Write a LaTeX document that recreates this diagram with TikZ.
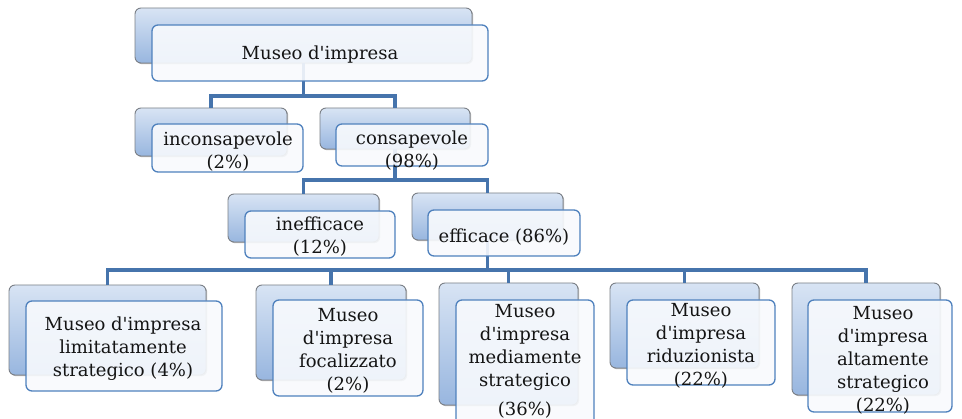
\documentclass[tikz,border=0pt]{standalone}
\usepackage{fontspec}
\newfontfamily\boxfont{DejaVu Serif}
\usetikzlibrary{fit,shadows}
\definecolor{bktop}{HTML}{D8E4F4}
\definecolor{bkbot}{HTML}{98B6DF}
\definecolor{bkline}{HTML}{7A7F86}
\definecolor{frline}{HTML}{4F81BD}
\definecolor{frfill}{HTML}{F8FAFD}
\definecolor{connc}{HTML}{4674AC}
\definecolor{txt}{HTML}{141414}
\begin{document}
\begin{tikzpicture}[x=1pt,y=-1pt,
  backbox/.style={draw=bkline, line width=0.9pt, rounded corners=6pt, inner sep=0pt,
    top color=bktop, bottom color=bkbot,
    drop shadow={shadow xshift=1.2pt, shadow yshift=-1.2pt, opacity=0.3, fill=black}},
  frontbox/.style={draw=frline, line width=1.3pt, rounded corners=6pt, inner sep=0pt,
    fill=frfill, fill opacity=0.9},
  conn/.style={draw=connc, line width=3.6pt},
  lbl/.style={text=txt, align=center, inner sep=0pt,
    font=\boxfont\fontsize{18}{23}\selectfont}]
\useasboundingbox (0,0) rectangle (962,419);
% back boxes
\node[backbox, fit={(135,8) (472,63)}] (b0) {};
\node[backbox, fit={(135,108) (287,156)}] (b1) {};
\node[backbox, fit={(320,108) (470,149)}] (b2) {};
\node[backbox, fit={(228,194) (379,242)}] (b3) {};
\node[backbox, fit={(412,193) (563,240)}] (b4) {};
\node[backbox, fit={(9,285) (206,375)}] (b5) {};
\node[backbox, fit={(256,285) (406,380)}] (b6) {};
\node[backbox, fit={(439,283) (578,405)}] (b7) {};
\node[backbox, fit={(610,283) (759,368)}] (b8) {};
\node[backbox, fit={(792,283) (940,395)}] (b9) {};
% connectors
\coordinate (j0) at (303,96);
\coordinate (j1) at (396,180);
\coordinate (j2) at (487,270);
\draw[conn] (b0.south) -- (b0.south |- j0);
\draw[conn] (b1.north) |- (j0) -| (b2.north);
\draw[conn] (b2.south) -- (b2.south |- j1);
\draw[conn] (b3.north) |- (j1) -| (b4.north);
\draw[conn] (b4.south) -- (b4.south |- j2);
\draw[conn] (b5.north) |- (j2) -| (b9.north);
\draw[conn] (b6.north) -- (b6.north |- j2);
\draw[conn] (b7.north) -- (b7.north |- j2);
\draw[conn] (b8.north) -- (b8.north |- j2);
% front boxes
\node[frontbox, fit={(152,25) (488,81)}] (f0) {};
\node[frontbox, fit={(152,124) (303,172)}] (f1) {};
\node[frontbox, fit={(336,124) (488,166)}] (f2) {};
\node[frontbox, fit={(245,211) (395,258)}] (f3) {};
\node[frontbox, fit={(428,210) (580,256)}] (f4) {};
\node[frontbox, fit={(26,301) (222,391)}] (f5) {};
\node[frontbox, fit={(273,300) (423,396)}] (f6) {};
\node[frontbox, fit={(456,300) (594,428)}] (f7) {};
\node[frontbox, fit={(627,300) (775,385)}] (f8) {};
\node[frontbox, fit={(808,300) (952,412)}] (f9) {};
% labels
\node[lbl] (t0) at (320,55) {Museo d'impresa};
\node[lbl] (t1) at (228,152) {inconsapevole\\(2\%)};
\node[lbl] (t2) at (412,151) {consapevole\\(98\%)};
\node[lbl] (t3) at (320,237) {inefficace\\(12\%)};
\node[lbl] (t4) at (504,237) {efficace (86\%)};
\node[lbl] (t5) at (123,349) {Museo d'impresa\\limitatamente\\strategico (4\%)};
\node[lbl] (t6) at (348,351) {Museo\\d'impresa\\focalizzato\\(2\%)};
\node[lbl] (t7) at (525,361) {Museo\\d'impresa\\mediamente\\strategico\\[6pt](36\%)};
\node[lbl] (t8) at (701,346) {Museo\\d'impresa\\riduzionista\\(22\%)};
\node[lbl] (t9) at (883,360) {Museo\\d'impresa\\altamente\\strategico\\(22\%)};
\end{tikzpicture}
\end{document}
